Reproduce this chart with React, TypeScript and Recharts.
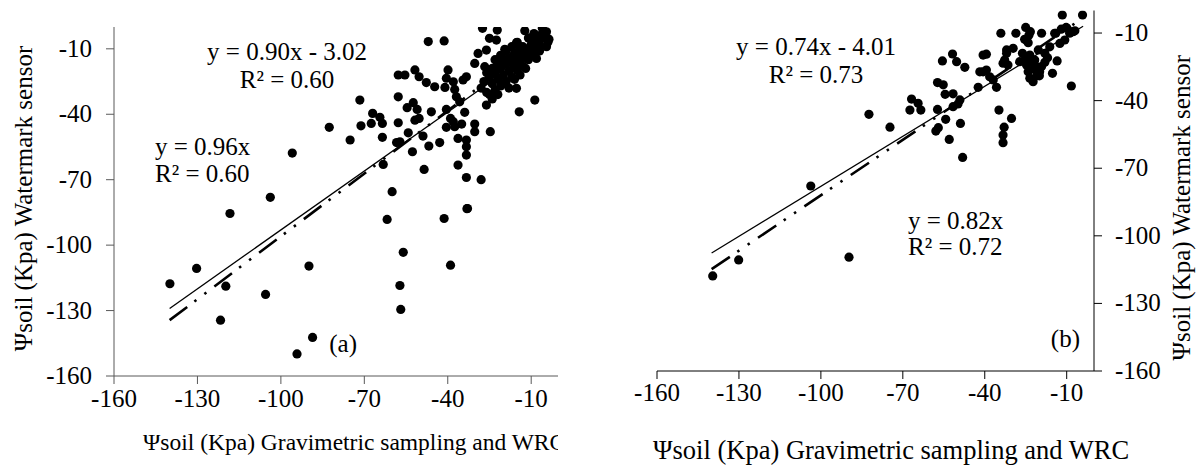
import { ScatterChart, Scatter, XAxis, YAxis, ReferenceLine, Label } from "recharts";

const FONT = "'Liberation Serif', 'Times New Roman', serif";

const axisTicks = [-160, -130, -100, -70, -40, -10];
const axisDomain = [-160, 0];

// (a) Watermark sensor vs gravimetric sampling + WRC
const leftPoints: [number, number][] = [
  [-139.9, -117.7], [-130.3, -110.7], [-119.8, -118.8], [-121.7, -134.4], [-105.5, -122.6],
  [-89.9, -109.6], [-88.6, -142.3], [-94.2, -149.9], [-57.2, -118.5], [-56.9, -129.5],
  [-56, -103.3], [-39, -109.2], [-61.8, -88.2], [-41.3, -87.8], [-60, -75.5],
  [-33.1, -83.3], [-32.9, -83.2], [-33.3, -69], [-28, -70], [-118.3, -85.5],
  [-103.8, -78.1], [-95.9, -57.8], [-82.6, -46], [-75.1, -51.8], [-71.6, -33.5],
  [-71.2, -45.3], [-67, -39.6], [-67.5, -44.2], [-64.4, -41.4], [-63.5, -44.2],
  [-63.5, -50.6], [-58.4, -53], [-57.2, -52.6], [-63.2, -63], [-57.8, -22],
  [-55.4, -22], [-57.8, -32], [-57.8, -43.9], [-47, -6.7], [-51.8, -19.7],
  [-50.3, -22.8], [-47.7, -25.5], [-52.4, -34.7], [-54.6, -37], [-51, -37.8],
  [-51.8, -42.7], [-50.3, -41.9], [-54.2, -48.5], [-48.9, -50], [-52.7, -57.2],
  [-46.8, -54.6], [-48.5, -65.3], [-41.3, -6.4], [-27.5, -0.6], [-22.2, -1.4],
  [-12.3, -1.7], [-6, -0.6], [-4.5, -2.2], [-3.6, -5.6], [-8.7, -4.4],
  [-25, -5.2], [-22.5, -6], [-15.3, -7.2], [-29.1, -12.1], [-30.3, -16.7],
  [-19.5, -10.2], [-26.1, -10.6], [-4.5, -9], [-8.1, -14.4], [-10.5, -11.3],
  [-14.1, -9.8], [-39.9, -19.7], [-40.5, -23.5], [-44.7, -27.4], [-41, -27.7],
  [-38, -25.1], [-33.3, -22.8], [-34.5, -24.3], [-37.5, -28.6], [-36.9, -32],
  [-35.7, -34.3], [-26.7, -18.2], [-15.3, -28.1], [-8.7, -33.5], [-26.1, -35.8],
  [-14.3, -38.9], [-45.9, -38.9], [-40.5, -37.8], [-33.9, -39.1], [-39, -41.9],
  [-38, -43.4], [-35, -44.5], [-37.5, -45.7], [-40.5, -46], [-30.3, -44.5],
  [-30.3, -48], [-24.7, -48], [-42.9, -53], [-36.3, -51.1], [-33.3, -51.8],
  [-33.3, -54.9], [-33.3, -58.7], [-36.3, -63.3],
  // dense cluster near the 1:1 line
  [-5, -3], [-6, -5], [-4, -7], [-7, -8], [-8, -6], [-9, -10], [-10, -8], [-11, -12],
  [-12, -10], [-13, -13], [-14, -11], [-15, -14], [-16, -12], [-17, -16], [-18, -14],
  [-19, -17], [-20, -15], [-21, -19], [-22, -17], [-23, -21], [-24, -19], [-25, -23],
  [-26, -21], [-18, -20], [-20, -22], [-22, -24], [-24, -26], [-16, -18], [-14, -16],
  [-12, -14], [-10, -12], [-19, -25], [-21, -27], [-23, -29], [-25, -31], [-17, -23],
  [-15, -20], [-13, -18], [-11, -15], [-9, -13], [-7, -11], [-27, -25], [-28, -28],
  [-26, -30], [-23, -15], [-21, -13], [-19, -11], [-17, -9], [-15, -7], [-13, -9],
  [-11, -5], [-9, -3], [-7, -4], [-20, -26], [-18, -28], [-16, -24], [-24, -33],
  [-22, -31], [-14, -22], [-12, -19],
];

// (b)
const rightPoints: [number, number][] = [
  [-139.6, -117.8], [-130.1, -110.7], [-89.7, -109.5], [-103.7, -77.9], [-82.4, -46.1],
  [-74.7, -51.8], [-66.8, -39.3], [-64.4, -41.2], [-67.4, -44.2], [-63.4, -44.2],
  [-57.3, -32], [-55.5, -22.4], [-54.5, -37.2], [-57.3, -43.9], [-54.3, -48.3],
  [-57.9, -53.5], [-57, -52], [-53, -57.2], [-51.8, -19.3], [-50.3, -22.7],
  [-47.3, -25.2], [-51.6, -42.7], [-49.8, -41.5], [-48.9, -50.1], [-48.1, -65.2],
  [-41.8, -27.2], [-11.6, -2], [-4.2, -2], [-25, -7.5], [-10.2, -7.5],
  [-7, -9], [-8.9, -10.1], [-23.3, -9.4], [-14.4, -10.1], [-19.2, -10.1],
  [-28.6, -10.1], [-25.4, -12.8], [-24.1, -14.3], [-29.6, -16.8], [-34.1, -10.1],
  [-39.4, -19.4], [-40.6, -27.2], [-32, -17.5], [-32, -19], [-33.3, -23.4],
  [-55.2, -33], [-51.6, -37], [-34.8, -44.2], [-30.2, -47.9], [-32.9, -51.8],
  [-33.3, -55.3], [-33.3, -58.7], [-49.1, -39.7], [-42.4, -34.1], [-38.2, -29.4],
  [-36.9, -30.8], [-35.7, -34.1], [-8.3, -33.5], [-13.5, -22.4], [-15.2, -27.9],
  [-12, -8.3], [-9.9, -7.9], [-7.7, -9.4], [-23.8, -10.9], [-24.7, -13.1],
  [-26.2, -19], [-23.5, -19.8], [-20.4, -17.5], [-18, -19], [-16.2, -16.1],
  [-12.5, -14.6], [-10.7, -13.1], [-19.2, -24.9], [-19.9, -27.2], [-24.1, -27.2],
  [-23.5, -30.1], [-22.3, -31.6], [-21.7, -22], [-21.1, -24.9], [-24.7, -24.2],
  [-40.6, -19.8], [-32.7, -22], [-31.5, -24.2], [-39.4, -26.4], [-27.2, -22.7],
  [-14, -10.1], [-22, -26], [-20, -29], [-18, -23], [-23, -23], [-21, -29],
  [-17, -21], [-25, -21],
];

// regression lines as printed on the figure
const leftFit = { slope: 0.9, intercept: -3.02 };
const leftFitOrigin = { slope: 0.96, intercept: 0 };
const rightFit = { slope: 0.74, intercept: -4.01 };
const rightFitOrigin = { slope: 0.82, intercept: 0 };
const fitRange = [-140, -4];

const xTitle = "Ψsoil (Kpa) Gravimetric sampling and WRC";
const yTitle = "Ψsoil (Kpa) Watermark sensor";

const toData = (pts: [number, number][]) => pts.map(([x, y]) => ({ x, y }));
const segment = (f: { slope: number; intercept: number }) =>
  fitRange.map((x) => ({ x, y: f.slope * x + f.intercept }));

const Dot = (props: any) => <circle cx={props.cx} cy={props.cy} r={4.6} fill="#000" />;

const textStyle = { fontSize: 25, fontFamily: FONT, fill: "#000" };
const tickText = { fontSize: 25, fontFamily: FONT, fill: "#000" };
const DASH = "22 9 2.5 10 2.5 10";

// tick renderers: x ticks hang below, y ticks centred on the tick
const XTick = ({ x, y, payload }: any) => (
  <text x={x} y={y + 17} textAnchor="middle" style={tickText}>
    {payload.value}
  </text>
);
const YTickLeft = ({ x, y, payload }: any) => (
  <text x={x} y={y + 8} textAnchor="end" style={tickText}>
    {payload.value}
  </text>
);
const YTickRight = ({ x, y, payload }: any) => (
  <text x={x} y={y + 8} textAnchor="start" style={tickText}>
    {payload.value}
  </text>
);

function LeftChart() {
  return (
    <ScatterChart width={560} height={466} margin={{ top: 27, right: 1, bottom: 60, left: 54 }}>
      <XAxis
        type="number"
        dataKey="x"
        domain={axisDomain}
        ticks={axisTicks}
        interval={0}
        allowDataOverflow
        height={30}
        stroke="#595959"
        tickSize={8}
        tickMargin={6}
        tick={<XTick />}
      >
        <Label
          content={({ viewBox }: any) => (
            <text x={viewBox.x + 29} y={viewBox.y + 74} style={{ fontSize: 23.5, fontFamily: FONT, fill: "#000" }}>
              {xTitle}
            </text>
          )}
        />
      </XAxis>
      <YAxis
        type="number"
        dataKey="y"
        domain={axisDomain}
        ticks={axisTicks}
        interval={0}
        allowDataOverflow
        width={60}
        stroke="#595959"
        tickSize={8}
        tickMargin={14}
        tick={<YTickLeft />}
      >
        <Label
          content={({ viewBox }: any) => {
            const cx = viewBox.x - 22;
            const cy = viewBox.y + viewBox.height / 2 - 3;
            return (
              <text x={cx} y={cy} transform={`rotate(-90, ${cx}, ${cy})`} textAnchor="middle" style={textStyle}>
                {yTitle}
              </text>
            );
          }}
        />
      </YAxis>
      <ReferenceLine segment={segment(leftFit)} stroke="#000" strokeWidth={1.3} />
      <ReferenceLine segment={segment(leftFitOrigin)} stroke="#000" strokeWidth={2.6} strokeDasharray={DASH} />
      <Scatter data={toData(leftPoints)} shape={Dot} isAnimationActive={false} />
      <text x={287} y={60} textAnchor="middle" style={textStyle}>y = 0.90x - 3.02</text>
      <text x={287} y={88} textAnchor="middle" style={textStyle}>R² = 0.60</text>
      <text x={155} y={155} style={textStyle}>y = 0.96x</text>
      <text x={155} y={182} style={textStyle}>R² = 0.60</text>
      <text x={357} y={352} textAnchor="end" style={textStyle}>(a)</text>
    </ScatterChart>
  );
}

function RightChart() {
  return (
    <ScatterChart width={627} height={466} margin={{ top: 10.5, right: 23, bottom: 65, left: 87 }}>
      <XAxis
        type="number"
        dataKey="x"
        domain={axisDomain}
        ticks={axisTicks}
        interval={0}
        allowDataOverflow
        height={30}
        stroke="#000"
        tickSize={8}
        tickMargin={5}
        tick={<XTick />}
      >
        <Label
          content={({ viewBox }: any) => (
            <text x={viewBox.x - 4} y={viewBox.y + 88} style={{ fontSize: 26.5, fontFamily: FONT, fill: "#000" }}>
              {xTitle}
            </text>
          )}
        />
      </XAxis>
      <YAxis
        type="number"
        dataKey="y"
        orientation="right"
        domain={axisDomain}
        ticks={axisTicks}
        interval={0}
        allowDataOverflow
        width={80}
        stroke="#000"
        tickSize={8}
        tickMargin={13}
        tick={<YTickRight />}
      >
        <Label
          content={({ viewBox }: any) => {
            const cx = viewBox.x + 96;
            const cy = viewBox.y + viewBox.height / 2 + 17;
            return (
              <text x={cx} y={cy} transform={`rotate(-90, ${cx}, ${cy})`} textAnchor="middle" style={textStyle}>
                {yTitle}
              </text>
            );
          }}
        />
      </YAxis>
      <ReferenceLine segment={segment(rightFit)} stroke="#000" strokeWidth={1.3} />
      <ReferenceLine segment={segment(rightFitOrigin)} stroke="#000" strokeWidth={2.6} strokeDasharray={DASH} />
      <Scatter data={toData(rightPoints)} shape={Dot} isAnimationActive={false} />
      <text x={246} y={55} textAnchor="middle" style={textStyle}>y = 0.74x - 4.01</text>
      <text x={246} y={83} textAnchor="middle" style={textStyle}>R² = 0.73</text>
      <text x={338} y={229} style={textStyle}>y = 0.82x</text>
      <text x={338} y={255} style={textStyle}>R² = 0.72</text>
      <text x={510} y={347} textAnchor="end" style={textStyle}>(b)</text>
    </ScatterChart>
  );
}

export default function App() {
  return (
    <div style={{ position: "fixed", left: 0, top: 0, width: 1197, height: 466, background: "#fff", overflow: "hidden", fontFamily: FONT }}>
      <div style={{ position: "absolute", left: 0, top: 0, width: 558, height: 466, overflow: "hidden" }}>
        <LeftChart />
      </div>
      <div style={{ position: "absolute", left: 570, top: 0, width: 627, height: 466 }}>
        <RightChart />
      </div>
    </div>
  );
}
